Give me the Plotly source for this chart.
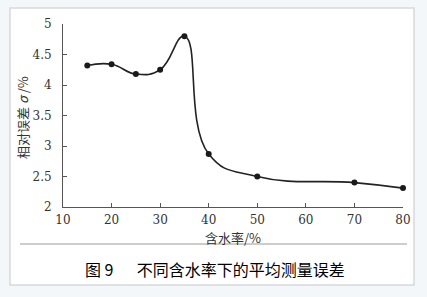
import plotly.graph_objects as go

water_cut = [15, 20, 25, 30, 35, 40, 50, 70, 80]
rel_error = [4.32, 4.34, 4.18, 4.25, 4.80, 2.87, 2.50, 2.40, 2.31]
x_ticks = [10, 20, 30, 40, 50, 60, 70, 80]
y_ticks = [2, 2.5, 3, 3.5, 4, 4.5, 5]
y_tick_text = ["2", "2.5", "3", "3.5", "4", "4.5", "5"]

W, H = 427, 297
fig = go.Figure()
fig.add_trace(go.Scatter(
    x=water_cut, y=rel_error, mode="lines+markers",
    line=dict(shape="spline", smoothing=1.3, color="#222222", width=1.6),
    marker=dict(size=6, color="#1a1a1a"),
    showlegend=False, cliponaxis=False,
))

serif = "DejaVu Serif"
cjk = "Noto Sans CJK SC"

fig.update_layout(
    width=W, height=H,
    margin=dict(l=63, r=24, t=24, b=90),
    paper_bgcolor="#f3f7fa",
    plot_bgcolor="rgba(0,0,0,0)",
    xaxis=dict(range=[10, 80], tickvals=x_ticks, ticks="inside", ticklen=4,
               tickcolor="#555", showline=True, linecolor="#555", linewidth=1,
               showgrid=False, zeroline=False, ticklabelstandoff=2,
               tickfont=dict(family=serif, size=12, color="#333")),
    yaxis=dict(range=[2, 5], tickvals=y_ticks, ticktext=y_tick_text,
               ticks="inside", ticklen=4,
               tickcolor="#555", showline=True, linecolor="#555", linewidth=1,
               showgrid=False, zeroline=False, ticklabelstandoff=8,
               tickfont=dict(family=serif, size=12, color="#333")),
    shapes=[
        dict(type="rect", xref="paper", yref="paper",
             x0=(10 - 63) / 340, x1=(414 - 63) / 340,
             y0=(207 - 285) / 183, y1=(207 - 8) / 183,
             fillcolor="white", line=dict(color="#d6d9dc", width=1.5), layer="below"),
        dict(type="line", xref="paper", yref="paper",
             x0=(20 - 63) / 340, x1=(407 - 63) / 340,
             y0=(207 - 244) / 183, y1=(207 - 244) / 183,
             line=dict(color="#9a9a9a", width=1)),
    ],
    annotations=[
        dict(text="含水率/%", xref="paper", yref="paper",
             x=(233 - 63) / 340, y=(207 - 237) / 183, showarrow=False,
             font=dict(family=cjk, size=13, color="#333"),
             xanchor="center", yanchor="middle"),
        dict(text="相对误差 <i>σ</i> /%", xref="paper", yref="paper",
             x=(22 - 63) / 340, y=(207 - 118) / 183, showarrow=False,
             textangle=-90,
             font=dict(family=cjk, size=13, color="#333"),
             xanchor="center", yanchor="middle"),
        dict(text="图 9　  不同含水率下的平均测量误差", xref="paper", yref="paper",
             x=(215 - 63) / 340, y=(207 - 269) / 183, showarrow=False,
             font=dict(family=cjk, size=16, color="#000"),
             xanchor="center", yanchor="middle"),
    ],
)

fig.write_html("out.html")
